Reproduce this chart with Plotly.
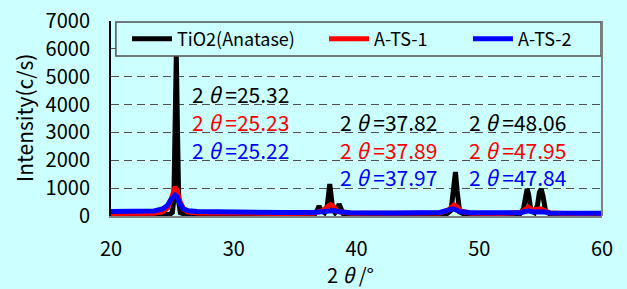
import plotly.graph_objects as go

# ---- data ----
series_names = ["TiO2(Anatase)", "A-TS-1", "A-TS-2"]
series_colors = ["#000000", "#FF0000", "#0000FF"]

tio2_x = [20, 22, 24, 24.8, 25.0, 25.12, 25.22, 25.32, 25.42, 25.52, 25.65, 26.0, 28, 30, 33, 36,
          36.6, 36.8, 36.95, 37.1, 37.4, 37.6, 37.72, 37.82, 37.92, 38.05, 38.25, 38.45, 38.58, 38.72, 38.9,
          39.5, 42, 45, 47.3, 47.7, 47.9, 48.06, 48.2, 48.4, 48.8, 51, 53.3, 53.6, 53.78, 53.9, 54.02,
          54.2, 54.5, 54.75, 54.9, 55.05, 55.2, 55.4, 55.8, 57, 60]
tio2_y = [40, 40, 45, 60, 130, 600, 3200, 5800, 3000, 500, 120, 60, 45, 45, 40, 45,
          70, 200, 360, 220, 120, 300, 800, 1150, 780, 250, 120, 250, 430, 250, 90,
          50, 45, 45, 60, 200, 1000, 1580, 900, 150, 60, 45, 70, 250, 800, 970, 780,
          200, 120, 400, 850, 970, 700, 180, 60, 45, 40]

ats1_x = [20, 22, 23.5, 24.2, 24.6, 24.9, 25.1, 25.23, 25.4, 25.6, 25.9, 26.3, 27, 28.5, 31, 34, 36.5,
          37.3, 37.7, 37.89, 38.1, 38.5, 39.5, 43, 46.8, 47.5, 47.8, 47.95, 48.15, 48.5, 49.3, 52,
          53.4, 53.8, 54.0, 54.3, 54.7, 55.0, 55.3, 55.8, 57, 60]
ats1_y = [90, 90, 100, 150, 280, 600, 950, 1050, 900, 550, 250, 140, 110, 100, 90, 90, 100,
          200, 360, 410, 350, 160, 100, 90, 110, 220, 370, 400, 340, 180, 100, 90,
          130, 260, 310, 220, 230, 260, 200, 110, 90, 85]

ats2_x = [20, 22, 23.5, 24.2, 24.6, 24.9, 25.1, 25.22, 25.4, 25.6, 25.9, 26.3, 27, 28.5, 31, 34, 36.5,
          37.3, 37.7, 37.97, 38.2, 38.6, 39.5, 43, 46.8, 47.4, 47.7, 47.84, 48.05, 48.4, 49.3, 52,
          53.4, 53.8, 54.0, 54.3, 54.7, 55.0, 55.3, 55.8, 57, 60]
ats2_y = [160, 165, 180, 250, 380, 600, 720, 750, 680, 450, 260, 190, 160, 145, 130, 125, 125,
          160, 210, 230, 200, 150, 120, 110, 130, 200, 250, 260, 230, 160, 120, 105,
          120, 170, 185, 150, 150, 160, 140, 110, 100, 95]

peak_labels = [
    ["2 <i>θ</i> =25.32", "2 <i>θ</i> =25.23", "2 <i>θ</i> =25.22"],
    ["2 <i>θ</i> =37.82", "2 <i>θ</i> =37.89", "2 <i>θ</i> =37.97"],
    ["2 <i>θ</i> =48.06", "2 <i>θ</i> =47.95", "2 <i>θ</i> =47.84"],
]

x_ticks = [20, 30, 40, 50, 60]
y_ticks = [0, 1000, 2000, 3000, 4000, 5000, 6000, 7000]
x_title = "2 <i>θ</i> /°"
y_title = "Intensity(c/s)"

# ---- figure ----
BG = "#CCFFFF"
FONT = "Noto Sans CJK JP, Liberation Sans, Arial, sans-serif"
legend_ids = ["legend", "legend2", "legend3"]
legend_x = [0.0326, 0.4338, 0.727]

fig = go.Figure()
for xs, ys, name, col, lid in zip([tio2_x, ats1_x, ats2_x], [tio2_y, ats1_y, ats2_y],
                                  series_names, series_colors, legend_ids):
    fig.add_trace(go.Scatter(x=xs, y=ys, mode="lines", name=name, legend=lid,
                             line=dict(color=col, width=5), cliponaxis=True))

# annotation positions (data coords)
col_x = [26.5, 38.55, 49.05]
row_y = [[4380, 3375, 2370], [3375, 2370, 1400], [3375, 2370, 1400]]
for ci, labels in enumerate(peak_labels):
    for ri, txt in enumerate(labels):
        fig.add_annotation(x=col_x[ci], y=row_y[ci][ri], text=txt, showarrow=False,
                           xanchor="left", yanchor="middle", height=24, borderpad=0,
                           font=dict(family=FONT, size=21, color=series_colors[ri]))

# axis titles
fig.add_annotation(xref="paper", yref="paper", x=(350 - 111) / 491, y=-(274 - 216) / 195,
                   text=x_title, showarrow=False, xanchor="center", yanchor="middle",
                   font=dict(family=FONT, size=20, color="black"))
fig.add_annotation(xref="paper", yref="paper", x=-(111 - 24) / 491, y=(216 - 118) / 195,
                   text=y_title, showarrow=False, xanchor="center", yanchor="middle",
                   textangle=-90, font=dict(family=FONT, size=21, color="black"))

# legend box
fig.add_shape(type="rect", xref="paper", yref="paper", x0=0.01, x1=0.998, y0=0.82, y1=0.995,
              line=dict(color="#505050", width=1.5), fillcolor=BG, layer="above")
# right frame line
fig.add_shape(type="line", xref="paper", yref="paper", x0=1, x1=1, y0=0, y1=1,
              line=dict(color="#808080", width=2))

leg_common = dict(orientation="h", y=0.908, xanchor="left", yanchor="middle",
                  bgcolor="rgba(0,0,0,0)", font=dict(size=18, family=FONT, color="black"),
                  itemwidth=40)
fig.update_layout(
    width=627, height=289,
    margin=dict(l=111, r=25, t=21, b=73, autoexpand=False),
    paper_bgcolor=BG, plot_bgcolor=BG,
    font=dict(family=FONT, color="black"),
    showlegend=True,
    legend=dict(x=legend_x[0], **leg_common),
    legend2=dict(x=legend_x[1], **leg_common),
    legend3=dict(x=legend_x[2], **leg_common),
    xaxis=dict(range=[20, 60], tickvals=x_ticks, ticktext=[str(v) for v in x_ticks],
               showgrid=False, zeroline=False, showline=True, linecolor="#808080", linewidth=2,
               ticks="", tickfont=dict(size=20), ticklabelstandoff=14, automargin=False),
    yaxis=dict(range=[0, 7000], tickvals=y_ticks, ticktext=[str(v) for v in y_ticks],
               showgrid=True, gridcolor="#505050", griddash="8px,5px", gridwidth=1,
               zeroline=False, showline=True, linecolor="black", linewidth=2,
               ticks="outside", ticklen=15, tickcolor=BG,
               tickfont=dict(size=20), automargin=False),
)

fig.write_html("out.html", config={"displayModeBar": False},
               post_script="document.body.style.margin='0';document.body.style.padding='0';")
